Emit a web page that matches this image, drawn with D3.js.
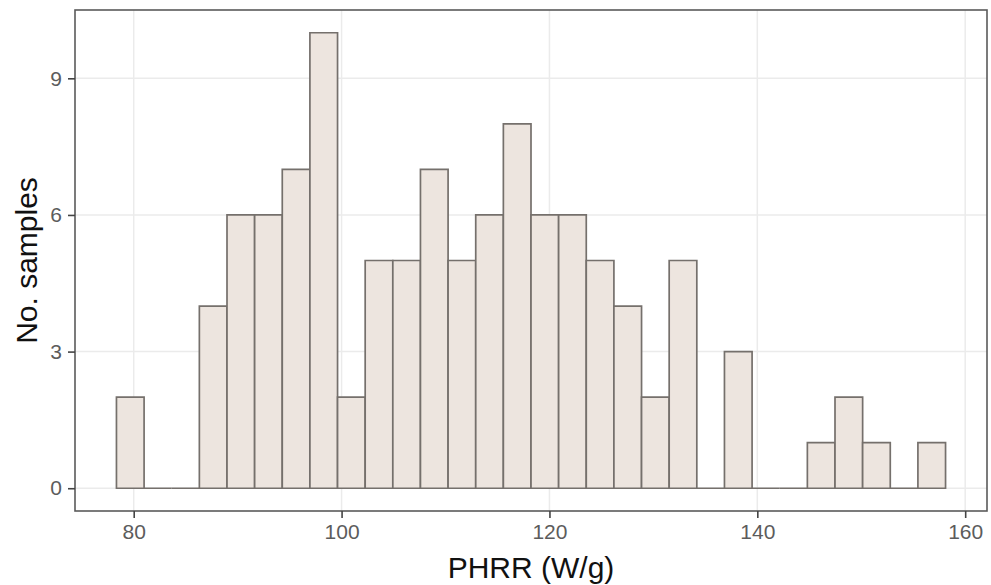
<!DOCTYPE html>
<html>
<head>
<meta charset="utf-8">
<script src="https://cdn.jsdelivr.net/npm/d3@7"></script>
<style>
  body { margin: 0; background: #fff; }
  svg { display: block; font-family: "Liberation Sans", Arial, sans-serif; }
</style>
</head>
<body>
<script>
// histogram of PHRR, 30 bins
var binStart = 78.34;
var binWidth = 2.659;
var counts = [2, 0, 0, 4, 6, 6, 7, 10, 2, 5, 5, 7, 5, 6, 8, 6, 6, 5, 4, 2, 5, 0, 3, 0, 0, 1, 2, 1, 0, 1];
var xTicks = [80, 100, 120, 140, 160];
var yTicks = [0, 3, 6, 9];

var width = 991, height = 585;
var panel = {left: 75, right: 987, top: 10, bottom: 511};

var bins = counts.map(function(c, i) {
  return {x0: binStart + i * binWidth, x1: binStart + (i + 1) * binWidth, n: c};
});

var xMin = bins[0].x0, xMax = bins[bins.length - 1].x1;
var pad = (xMax - xMin) * 0.05;

var x = d3.scaleLinear()
  .domain([xMin - pad, xMax + pad])
  .range([panel.left, panel.right]);

var y = d3.scaleLinear()
  .domain([-0.5, 10.5])
  .range([panel.bottom, panel.top]);

var svg = d3.select("body").append("svg")
  .attr("width", width)
  .attr("height", height);

// grid
svg.append("g").selectAll("line.gx")
  .data(xTicks)
.enter().append("line")
  .attr("x1", function(d) { return x(d); })
  .attr("x2", function(d) { return x(d); })
  .attr("y1", panel.top)
  .attr("y2", panel.bottom)
  .style("stroke", "#ebebeb")
  .style("stroke-width", 1.5);

svg.append("g").selectAll("line.gy")
  .data(yTicks)
.enter().append("line")
  .attr("x1", panel.left)
  .attr("x2", panel.right)
  .attr("y1", function(d) { return y(d); })
  .attr("y2", function(d) { return y(d); })
  .style("stroke", "#ebebeb")
  .style("stroke-width", 1.5);

// bars as paths so empty bins still show a line at 0
svg.append("g").selectAll("path")
  .data(bins)
.enter().append("path")
  .attr("d", function(d) {
    return "M" + x(d.x0) + "," + y(0) +
      "V" + y(d.n) + "H" + x(d.x1) + "V" + y(0) + "Z";
  })
  .style("fill", "#ede5df")
  .style("stroke", "#75706c")
  .style("stroke-width", 1.7);

// panel border
svg.append("rect")
  .attr("x", panel.left)
  .attr("y", panel.top)
  .attr("width", panel.right - panel.left)
  .attr("height", panel.bottom - panel.top)
  .style("fill", "none")
  .style("stroke", "#5a5a5a")
  .style("stroke-width", 1.6);

// axes
var xAxis = svg.append("g")
  .attr("transform", "translate(0," + panel.bottom + ")")
  .call(d3.axisBottom(x).tickValues(xTicks).tickSize(7).tickPadding(6));

var yAxis = svg.append("g")
  .attr("transform", "translate(" + panel.left + ",0)")
  .call(d3.axisLeft(y).tickValues(yTicks).tickSize(7).tickPadding(6));

[xAxis, yAxis].forEach(function(a) {
  a.select(".domain").remove();
  a.selectAll(".tick line").style("stroke", "#444").style("stroke-width", 1.6);
  a.selectAll(".tick text")
    .style("fill", "#5c5c5c")
    .style("font-size", "21px")
    .style("font-family", "Liberation Sans, Arial, sans-serif");
});

// titles
svg.append("text")
  .attr("x", (panel.left + panel.right) / 2)
  .attr("y", 578)
  .attr("text-anchor", "middle")
  .style("font-size", "30px")
  .style("fill", "#111")
  .text("PHRR (W/g)");

svg.append("text")
  .attr("transform", "translate(37," + (panel.top + panel.bottom) / 2 + ") rotate(-90)")
  .attr("text-anchor", "middle")
  .style("font-size", "30px")
  .style("fill", "#111")
  .text("No. samples");
</script>
</body>
</html>
